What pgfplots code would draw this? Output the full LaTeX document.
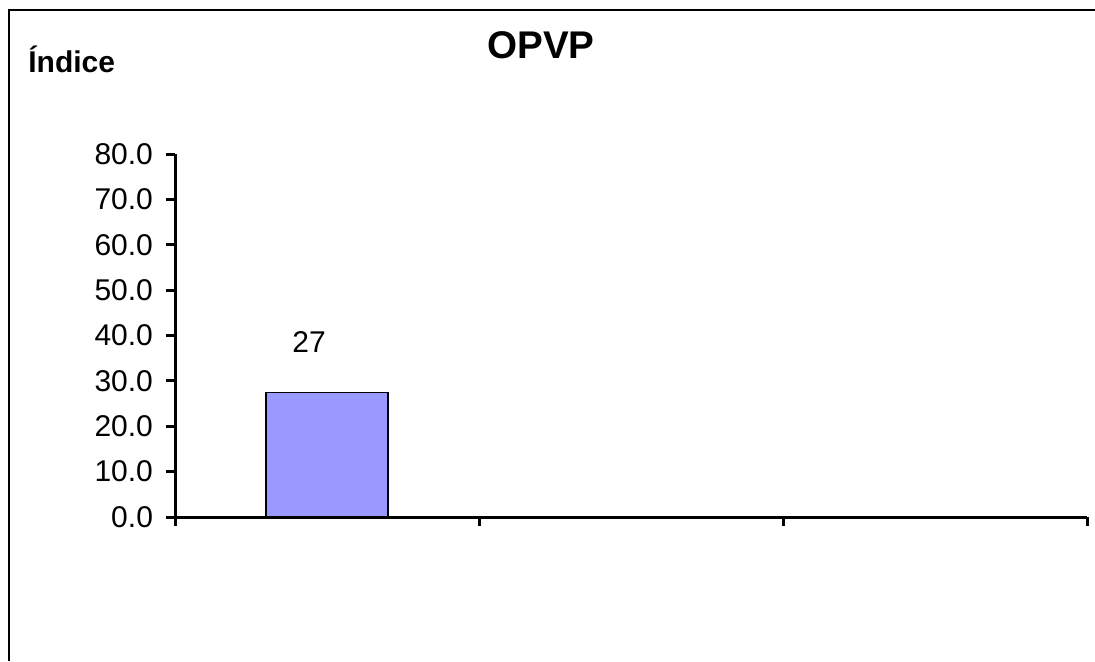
\documentclass[border=0pt]{standalone}
\usepackage{pgfplots}
\pgfplotsset{compat=1.18}
\usepackage{fontspec}
\setmainfont{Liberation Sans}
\definecolor{barblue}{HTML}{9999FF}
\begin{document}
\begin{tikzpicture}
\path[use as bounding box] (0pt,0pt) rectangle (547.5pt,-330.5pt);
\draw[line width=1pt] (4.5pt,-330.5pt) -- (4.5pt,-5pt) -- (547.5pt,-5pt);
\node[font=\bfseries\fontsize{19.3}{22}\selectfont, anchor=base, inner sep=0pt] at (270.5pt,-29pt) {OPVP};
\node[font=\bfseries\fontsize{15}{18}\selectfont, anchor=base west, inner sep=0pt] at (14pt,-36pt) {Índice};
\begin{axis}[
  at={(87.5pt,-258.5pt)}, anchor=south west,
  scale only axis, width=456pt, height=181.5pt,
  xmin=-0.5, xmax=2.5, ymin=0, ymax=80,
  ytick={0,10,...,80},
  xtick={-0.5,0.5,1.5,2.5}, xticklabels={},
  axis x line*=bottom, axis y line*=left,
  axis line style={line width=1.5pt, black},
  tick style={line width=1.5pt, black},
  tick align=outside, major tick length=4.5pt,
  y tick label style={font=\fontsize{15}{18}\selectfont, /pgf/number format/fixed, /pgf/number format/fixed zerofill, /pgf/number format/precision=1},
  /pgf/number format/assume math mode=true,
  yticklabel shift=3pt,
  clip=false,
]
\addplot[ybar, bar width=61pt, fill=barblue, draw=black, line width=0.6pt,
  nodes near coords, point meta=explicit symbolic,
  nodes near coords style={font=\fontsize{15}{18}\selectfont, anchor=center, yshift=25.5pt, xshift=-9pt, text=black}]
  coordinates {(0,27.4) [27]};
\end{axis}
\end{tikzpicture}
\end{document}
